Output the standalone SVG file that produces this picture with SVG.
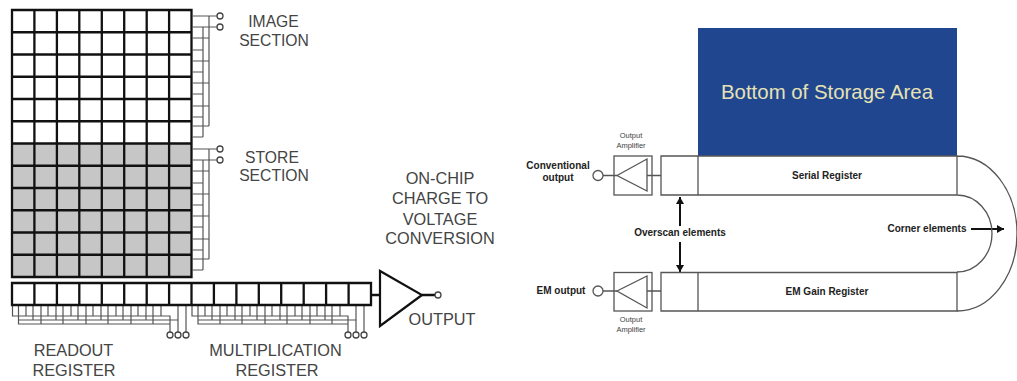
<svg xmlns="http://www.w3.org/2000/svg" width="1017" height="381" viewBox="0 0 1017 381">
<style>
.g{fill:none;stroke:#111;stroke-width:2.300}
.w{fill:none;stroke:#555;stroke-width:1.200}
.c{fill:#fff;stroke:#444;stroke-width:1.300}
.l{font-family:"Liberation Sans",Arial,sans-serif;font-size:16.300px;fill:#444;text-anchor:middle}
.u{font-size:15.700px}
.r{fill:none;stroke:#555;stroke-width:1.300}
.b{font-family:"Liberation Sans",Arial,sans-serif;font-size:10px;font-weight:bold;fill:#222;text-anchor:middle}
.s{font-family:"Liberation Sans",Arial,sans-serif;font-size:7.500px;fill:#444;text-anchor:middle}
.a{fill:none;stroke:#111;stroke-width:2;marker-end:url(#ah)}
</style>
<defs><marker id="ah" markerUnits="userSpaceOnUse" markerWidth="8" markerHeight="8" refX="7" refY="4" orient="auto"><path d="M0 0L7 4L0 8Z" fill="#111"/></marker></defs>
<rect width="1017" height="381" fill="#fff"/>
<g id="image-section">
<rect x="12" y="10" width="179.500" height="133.500" fill="#fff"/>
</g>
<g id="store-section">
<rect x="12" y="143.500" width="179.500" height="133.500" fill="#c6c6c6"/>
</g>
<g id="ccd-grid">
<path class="g" d="M12 10H191.500V277H12ZM12 32.250H191.500M12 54.500H191.500M12 76.750H191.500M12 99H191.500M12 121.250H191.500M12 143.500H191.500M12 165.750H191.500M12 188H191.500M12 210.250H191.500M12 232.500H191.500M12 254.750H191.500M34.400 10V277M56.900 10V277M79.300 10V277M101.800 10V277M124.200 10V277M146.700 10V277M169.100 10V277"/>
</g>
<g id="connectors">
<path class="w" d="M192 16H217M192 27H217M209 16V126M203 27V137M192 38H209M192 50H203M192 61H209M192 72H203M192 83H209M192 94H203M192 106H209M192 117H203M192 126H209M192 137H203"/>
<path class="w" d="M192 149H217M192 160H217M209 149V259M203 160V270M192 171H209M192 183H203M192 194H209M192 205H203M192 216H209M192 227H203M192 239H209M192 250H203M192 259H209M192 270H203"/>
<path class="w" d="M12.500 305V316H170V332M18.500 305V320H178V332M18.500 320V324H170M186 305V332M178 305V320M26 305V316M33 305V320M41 305V324M48 305V316M56 305V320M63 305V324M71 305V316M78 305V320M86 305V324M93 305V316M101 305V320M108 305V324M116 305V316M123 305V320M131 305V324M138 305V316M146 305V320M153 305V324M161 305V316"/>
<path class="w" d="M192 305V316H348V332M198 305V320H356V332M198 320V324H348M364 305V332M356 305V320M205 305V316M212 305V320M220 305V324M227 305V316M235 305V320M242 305V324M250 305V316M257 305V320M265 305V324M272 305V316M280 305V320M287 305V324M295 305V316M302 305V320M310 305V324M317 305V316M325 305V320M332 305V324M340 305V316"/>
<path class="g" d="M371 295H380M422 295H436"/>
<path class="r" d="M603 175.500H617M647 175.500H661M603 291H617M647 291H661"/>
<path class="a" d="M680 226V197"/>
<path class="a" d="M680 242V272"/>
<path class="a" d="M971 229H1004"/>
</g>
<g id="terminals">
<circle class="c" cx="220" cy="16" r="3"/><circle class="c" cx="220" cy="27" r="3"/>
<circle class="c" cx="220" cy="149" r="3"/><circle class="c" cx="220" cy="160" r="3"/>
<circle class="c" cx="170" cy="335" r="3"/><circle class="c" cx="178" cy="335" r="3"/><circle class="c" cx="186" cy="335" r="3"/>
<circle class="c" cx="348" cy="335" r="3"/><circle class="c" cx="356" cy="335" r="3"/><circle class="c" cx="364" cy="335" r="3"/>
<circle class="c" cx="438" cy="295" r="3"/>
</g>
<g id="register">
<path class="g" d="M12 283H371V305H12ZM34.400 283V305M56.900 283V305M79.300 283V305M101.800 283V305M124.200 283V305M146.700 283V305M169.100 283V305M191.500 283V305M213.900 283V305M236.400 283V305M258.800 283V305M281.200 283V305M303.700 283V305M326.100 283V305M348.600 283V305"/>
</g>
<g id="amplifier">
<path d="M380 271V326L422 295Z" fill="#fff" stroke="#111" stroke-width="2.200"/>
</g>
<g id="left-labels">
<text class="l u" x="273.500" y="27">IMAGE</text><text class="l u" x="274" y="46">SECTION</text>
<text class="l u" x="272" y="162.500">STORE</text><text class="l u" x="274" y="181">SECTION</text>
<text class="l" x="440" y="184">ON-CHIP</text><text class="l" x="440" y="204">CHARGE TO</text><text class="l" x="440" y="224.500">VOLTAGE</text><text class="l" x="440" y="244">CONVERSION</text>
<text class="l" x="442" y="325">OUTPUT</text>
<text class="l" x="73.500" y="356">READOUT</text><text class="l" x="74" y="376">REGISTER</text>
<text class="l" x="275.500" y="356">MULTIPLICATION</text><text class="l" x="277" y="376">REGISTER</text>
</g>
<g id="storage-area">
<rect x="698" y="28" width="259" height="128" fill="#20468f"/>
<text x="827" y="98.700" font-family="Liberation Sans,Arial,sans-serif" font-size="20.400" fill="#e6e2b4" text-anchor="middle">Bottom of Storage Area</text>
</g>
<g id="serial-register">
<path class="r" d="M661 156H957V195H661ZM698 156V195M957 156A60 77.500 0 0 1 957 311M957 195A35 38.500 0 0 1 957 272"/>
<text class="b" x="827" y="179">Serial Register</text>
</g>
<g id="em-gain-register">
<path class="r" d="M661 272.500H957V311H661ZM698 272.500V311"/>
<text class="b" x="827" y="295">EM Gain Register</text>
</g>
<g id="conventional-amp">
<rect class="r" x="614" y="156" width="38" height="39"/>
<path class="r" d="M617 175.500L647 159V191Z"/>
<circle class="r" cx="598" cy="175.500" r="5"/>
<text class="s" x="631" y="138">Output</text><text class="s" x="631" y="148">Amplifier</text>
<text class="b" x="558" y="169">Conventional</text><text class="b" x="558" y="181">output</text>
</g>
<g id="em-amp">
<rect class="r" x="614" y="272.500" width="38" height="38.500"/>
<path class="r" d="M617 291L647 276V308Z"/>
<circle class="r" cx="598" cy="291" r="5"/>
<text class="s" x="631" y="322">Output</text><text class="s" x="631" y="332">Amplifier</text>
<text class="b" x="561" y="294">EM output</text>
</g>
<g id="annotations">
<text class="b" x="680" y="236">Overscan elements</text>
<text class="b" x="927" y="232">Corner elements</text>
</g>
</svg>
